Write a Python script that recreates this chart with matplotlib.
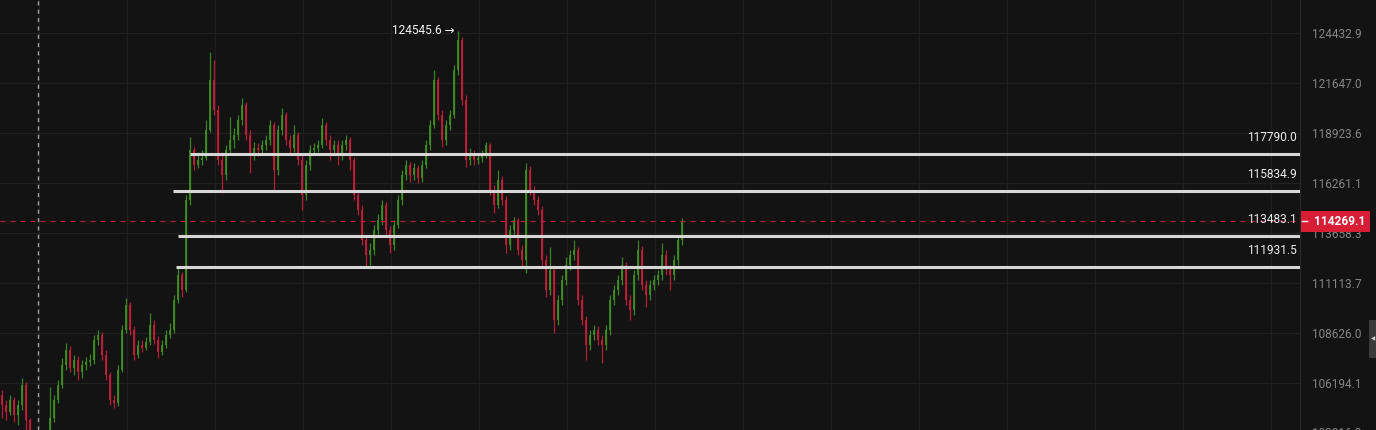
import matplotlib
matplotlib.use("Agg")
import matplotlib.pyplot as plt
from matplotlib.patches import Rectangle
from matplotlib.ticker import FixedLocator, FuncFormatter, NullLocator

plt.rcParams["font.family"] = ["Roboto", "DejaVu Sans"]

# ---- price data (one candle per bar, open = previous close) ----
first_open = 105618

closes = [
    105140, 104807, 105379, 104665, 105140, 106097, 104428, 103487, 103113, 103254,
    103020, 103722, 104523, 105379, 106097, 107063, 107792, 106917, 107305, 106723,
    107063, 107208, 107305, 108281, 108527, 107549, 106579, 105379, 105236, 106820,
    108773, 110011, 108773, 107549, 108037, 107890, 108183, 109020, 108281, 107695,
    108037, 108527, 108773, 110261, 111517, 110761, 115369, 118012, 117213, 117478,
    117585, 119086, 121813, 120168, 117478, 116684, 118012, 118547, 118817, 119626,
    120441, 118817, 117745, 118119, 118012, 118280, 118547, 119356, 116948, 119086,
    119897, 118547, 118119, 118817, 117478, 115631, 117213, 118012, 118119, 118280,
    119356, 118547, 118012, 118280, 117745, 118280, 118547, 117478, 115631, 114848,
    113298, 112531, 112786, 113812, 114329, 115109, 113812, 113042, 114071, 115369,
    116684, 117213, 116684, 117054, 116525, 117213, 118280, 119356, 121813, 119897,
    118547, 119356, 119897, 122366, 124039, 120714, 117478, 117745, 117478, 117585,
    117745, 118280, 115893, 115109, 116419, 115369, 113042, 113812, 114329, 112786,
    112276, 116948, 115893, 115369, 114848, 112276, 110761, 111769, 109266, 110261,
    111264, 112023, 112531, 112786, 110261, 109266, 108037, 108527, 108773, 108281,
    108037, 108773, 110261, 110761, 111264, 112023, 110261, 109762, 111517, 112786,
    111013, 110511, 111013, 111264, 111517, 112531, 111769, 111517, 112276, 113298,
    114269.1,
]

highs = [
    105857, 105379, 105618, 105522, 105379, 106434, 106241, 104523, 103722, 103487,
    103581, 103957, 106001, 105618, 106337, 107402, 108134, 107988, 107549, 107500,
    107305, 107451, 107597, 108527, 108773, 108675, 107792, 106723, 105618, 107063,
    109020, 110361, 110161, 108970, 108281, 108281, 108429, 109613, 109266, 108478,
    108281, 108773, 109118, 110511, 111870, 111668, 115631, 118709, 118173, 117905,
    118012, 119626, 123367, 122921, 120441, 117905, 118280, 119789, 119194, 119897,
    120824, 120605, 119086, 118440, 118387, 118547, 118817, 119626, 119518, 119356,
    120277, 120060, 118817, 119356, 118978, 117745, 117478, 118280, 118387, 118547,
    119734, 119518, 118817, 118547, 118547, 118547, 118817, 118709, 117638, 115893,
    115109, 113555, 113144, 114071, 114640, 115369, 115265, 114019, 114329, 115631,
    116948, 117478, 117372, 117319, 117213, 117478, 118547, 119626, 122366, 121979,
    120168, 119626, 120168, 122644, 124545.6, 124208, 120988, 118119, 118012, 117852,
    118012, 118440, 118387, 116156, 116948, 116631, 115579, 114071, 114485, 114433,
    113042, 117319, 117160, 116103, 115579, 115057, 112531, 112940, 111972, 110511,
    111517, 112429, 112786, 113298, 112940, 110511, 109464, 108773, 109020, 108970,
    108527, 109020, 110511, 111013, 111517, 112429, 112175, 110511, 111769, 113298,
    112991, 111264, 111264, 111517, 111769, 113144, 112786, 112023, 112531, 113555,
    114433,
]

lows = [
    104523, 104428, 104665, 104334, 104193, 104902, 103957, 103254, 102788, 102927,
    102788, 102788, 103487, 104334, 105236, 105953, 106820, 106723, 106579, 106337,
    106433, 106820, 107014, 107111, 108037, 107305, 106337, 105141, 104997, 105093,
    106723, 108625, 108527, 107305, 107402, 107695, 107792, 108037, 108085, 107402,
    107549, 107890, 108380, 108625, 110111, 110411, 110661, 115109, 116948, 117054,
    117213, 117478, 118978, 119897, 117213, 115735, 116419, 117745, 118119, 118547,
    119356, 118547, 116789, 117478, 117692, 117745, 118012, 118280, 115893, 116684,
    118817, 118280, 117745, 117905, 117213, 114848, 115369, 116948, 117745, 117905,
    118119, 118280, 117478, 117745, 117213, 117478, 118012, 116948, 115369, 114589,
    113042, 111921, 112023, 112531, 113555, 114071, 113555, 112633, 112786, 113915,
    115109, 116419, 116314, 116419, 116261, 116314, 117054, 118012, 119194, 119626,
    118173, 118280, 119086, 119734, 122090, 120441, 117107, 117213, 117213, 117266,
    117372, 117585, 115631, 114692, 114952, 115109, 112633, 112786, 113555, 112531,
    111921, 111618, 115631, 115109, 114589, 112023, 110411, 110511, 108625, 109020,
    110011, 111013, 111769, 112276, 110011, 109020, 107305, 107792, 108281, 108037,
    107160, 107792, 108527, 110011, 110511, 111013, 110011, 109266, 109514, 111264,
    110761, 109912, 110261, 110761, 111013, 111264, 111517, 110761, 111264, 112023,
    113042,
]

# horizontal levels and where each one begins (bar index)
levels = [117790.0, 115834.9, 113483.1, 111931.5]
level_start = [47, 42.75, 44, 43.5]

price_ticks = [124432.9, 121647.0, 118923.6, 116261.1, 113658.3,
               111113.7, 108626.0, 106194.1]
bottom_tick = 103816.3
peak_price = 124545.6
last_price = closes[-1]

# ---- colours ----
BG = "#131313"
GRID = "#202020"
UP = "#3f8f24"
DOWN = "#c41f3b"
AXIS_TXT = "#868686"

W, H = 1376, 430
fig = plt.figure(figsize=(W / 100, H / 100), dpi=100, facecolor=BG)
plot_w = 1300
ax = fig.add_axes([0, 0, plot_w / W, 1], facecolor=BG)

opens = [first_open] + closes[:-1]
n = len(closes)
xs = list(range(n))

up_idx = [i for i in xs if closes[i] >= opens[i]]
dn_idx = [i for i in xs if closes[i] < opens[i]]

for idx, col in ((up_idx, UP), (dn_idx, DOWN)):
    ax.vlines([xs[i] for i in idx], [lows[i] for i in idx], [highs[i] for i in idx],
              color=col, lw=0.9, zorder=3, alpha=0.9)
    ax.bar([xs[i] for i in idx],
           [abs(closes[i] - opens[i]) for i in idx],
           bottom=[min(closes[i], opens[i]) for i in idx],
           width=0.7, color=col, linewidth=0, zorder=3, alpha=0.9)

ax.set_yscale("log")
ax.set_ylim(103958, 126299)
ax.set_xlim(-0.5, (plot_w - 2) / 4)

# grid
ax.yaxis.set_major_locator(FixedLocator(price_ticks))
ax.yaxis.set_minor_locator(NullLocator())
ax.yaxis.set_major_formatter(FuncFormatter(lambda v, p: f"{v:.1f}"))
ax.xaxis.set_major_locator(FixedLocator([9.25 + 22 * k for k in range(15)]))
ax.grid(True, color=GRID, lw=0.9, zorder=0)
ax.tick_params(axis="x", bottom=False, labelbottom=False)
ax.yaxis.tick_right()
ax.tick_params(axis="y", length=0, pad=8.6, labelsize=8.5, labelcolor=AXIS_TXT)
for s in ("top", "left", "bottom"):
    ax.spines[s].set_visible(False)
ax.spines["right"].set_color("#262626")
ax.spines["right"].set_linewidth(1.0)

# partially visible label at the bottom edge
ax.annotate(f"{bottom_tick:.1f}", xy=(1, bottom_tick), xycoords=("axes fraction", "data"),
            xytext=(8.6, 0), textcoords="offset points", ha="left", va="center",
            fontsize=8.5, color=AXIS_TXT, annotation_clip=False)

# vertical dashed marker
ax.axvline(9, color="#a0a0a0", lw=1.0, ls=(0, (3, 3)), zorder=2)

# last price dashed line
ax.axhline(last_price, color="#b8203c", lw=0.9, ls=(0, (4, 4)), zorder=4)

# support / resistance levels
for lv, st in zip(levels, level_start):
    ax.hlines(lv, st, ax.get_xlim()[1], color="#d6d6d6", lw=2.2, zorder=5)
    ax.annotate(f"{lv:.1f}", xy=(1, lv), xycoords=("axes fraction", "data"),
                xytext=(-2.5, 11.8), textcoords="offset points", ha="right", va="center",
                fontsize=8.6, color="#ececec", zorder=6)

# peak marker
peak_i = highs.index(peak_price)
ax.annotate(f"{peak_price:.1f} \u2192", xy=(peak_i, peak_price), xycoords="data",
            xytext=(-2.5, 0), textcoords="offset points", ha="right", va="center",
            fontsize=8.6, color="#f2f2f2", zorder=6)

# last price tag on the price scale
fig.canvas.draw()
yc = ax.transData.transform((0, last_price))[1]
tag = Rectangle((1301, yc - 10.5), 69, 21, transform=None, facecolor="#d81e34",
                edgecolor="none", zorder=10)
fig.add_artist(tag)
fig.add_artist(plt.Line2D([1302, 1307], [yc, yc], transform=None, color="white",
                          lw=1.0, zorder=11))
fig.text(1340 / W, yc / H, f"{last_price:.1f}", ha="center", va="center",
         fontsize=8.6, fontweight="bold", color="white", zorder=11)

# scroll handle at the right edge
fig.add_artist(Rectangle((1369, H - 358), 8, 38, transform=None, facecolor="#3a3a3a",
                         edgecolor="none", zorder=10))
fig.text(1373 / W, (H - 339) / H, "\u25c0", ha="center", va="center", fontsize=4,
         color="#d0d0d0", zorder=11, family=["DejaVu Sans"])

fig.savefig("out.png", dpi=100, facecolor=BG)
